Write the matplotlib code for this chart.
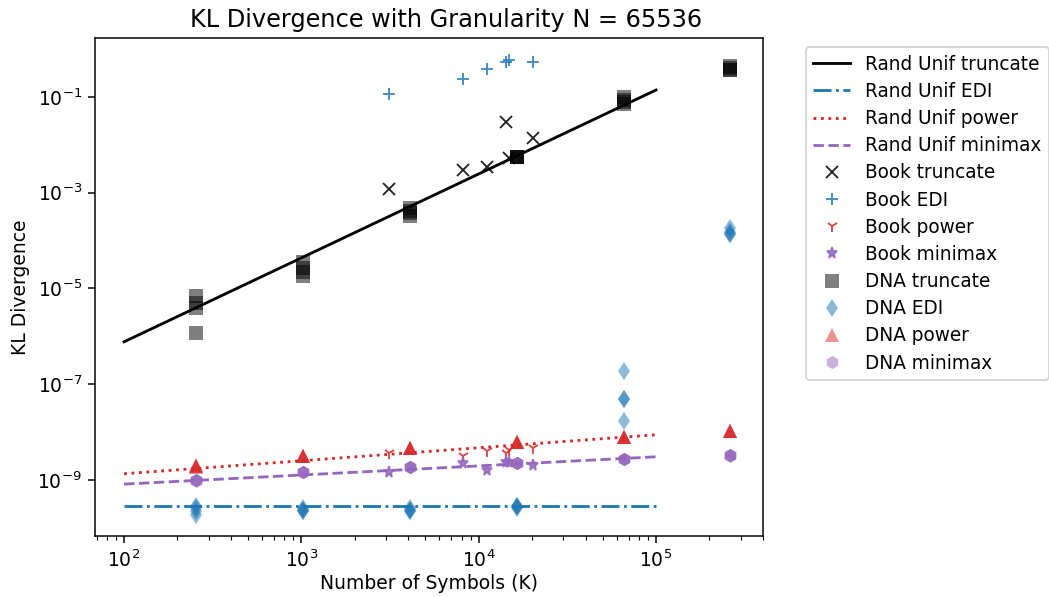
import matplotlib
matplotlib.use("Agg")
import matplotlib.pyplot as plt
import numpy as np

# Random-uniform reference fits
rand_K = [100, 100000]
rand_truncate = [7.7e-7, 0.14]
rand_edi = [2.9e-10, 2.9e-10]
rand_power = [1.35e-9, 8.8e-9]
rand_minimax = [8.2e-10, 3.05e-9]

# Book samples
book_K = [3100, 8100, 11100, 14300, 14900, 20100]
book_truncate = [1.18e-3, 2.99e-3, 3.40e-3, 2.96e-2, 5.25e-3, 1.37e-2]
book_edi = [0.114, 0.238, 0.379, 0.545, 0.592, 0.538]
book_power = [3.64e-9, 3.10e-9, 3.94e-9, 3.64e-9, 4.2e-9, 4.64e-9]
book_minimax = [1.50e-9, 2.25e-9, 1.63e-9, 2.43e-9, 2.32e-9, 2.07e-9]

# DNA samples (several sequences per K)
dna_K = [256, 1024, 4096, 16384, 65536, 262144]
dna_truncate = [
    [7.0e-6, 4.9e-6, 3.9e-6, 1.2e-6],
    [3.6e-5, 2.7e-5, 2.2e-5, 1.8e-5],
    [4.8e-4, 4.2e-4, 3.8e-4, 3.3e-4],
    [5.6e-3, 5.6e-3, 5.5e-3, 5.7e-3],
    [0.10, 0.085, 0.08, 0.071],
    [0.44, 0.40, 0.37, 0.37],
]
dna_edi = [
    [2.8e-10, 2.6e-10, 2.2e-10, 1.9e-10],
    [2.6e-10, 2.4e-10, 2.3e-10, 2.2e-10],
    [2.6e-10, 2.4e-10, 2.3e-10, 2.2e-10],
    [2.9e-10, 2.8e-10, 2.7e-10, 2.6e-10],
    [1.9e-7, 4.9e-8, 4.9e-8, 1.7e-8],
    [1.8e-4, 1.5e-4, 1.4e-4, 1.4e-4],
]
dna_power = [
    [2.1e-9, 2.0e-9, 2.0e-9, 1.9e-9],
    [3.2e-9, 3.2e-9, 3.1e-9, 3.2e-9],
    [4.7e-9, 4.7e-9, 4.6e-9, 4.7e-9],
    [6.3e-9, 6.2e-9, 6.3e-9, 6.2e-9],
    [8.0e-9, 7.9e-9, 8.0e-9, 7.9e-9],
    [1.06e-8, 1.05e-8, 1.06e-8, 1.05e-8],
]
dna_minimax = [
    [1.01e-9, 1.0e-9, 0.95e-9, 1.02e-9],
    [1.48e-9, 1.47e-9, 1.49e-9, 1.48e-9],
    [1.89e-9, 1.88e-9, 1.9e-9, 1.89e-9],
    [2.29e-9, 2.28e-9, 2.3e-9, 2.29e-9],
    [2.77e-9, 2.76e-9, 2.78e-9, 2.77e-9],
    [3.25e-9, 3.2e-9, 3.3e-9, 3.25e-9],
]

DPI = 135
fig = plt.figure(figsize=(1049 / DPI, 597 / DPI), dpi=DPI)
ax = fig.add_axes([95 / 1049, 61 / 597, 668 / 1049, 498 / 597])

blue, red, purple = "tab:blue", "tab:red", "tab:purple"

ax.plot(rand_K, rand_truncate, color="k", ls="-", label="Rand Unif truncate")
ax.plot(rand_K, rand_edi, color=blue, ls="-.", label="Rand Unif EDI")
ax.plot(rand_K, rand_power, color=red, ls=":", label="Rand Unif power")
ax.plot(rand_K, rand_minimax, color=purple, ls="--", label="Rand Unif minimax")

ba = 0.85
ax.plot(book_K, book_truncate, marker="x", ls="none", color="k", alpha=ba, label="Book truncate")
ax.plot(book_K, book_edi, marker="+", ls="none", color=blue, alpha=ba, label="Book EDI")
ax.plot(book_K, book_power, marker="1", ls="none", color=red, alpha=ba, label="Book power")
ax.plot(book_K, book_minimax, marker="*", ls="none", color=purple, alpha=ba, label="Book minimax")


def flat(vals):
    xs, ys = [], []
    for k, row in zip(dna_K, vals):
        for v in row:
            xs.append(k)
            ys.append(v)
    return xs, ys


da = 0.5
for vals, mk, col, lab in [
    (dna_truncate, "s", "k", "DNA truncate"),
    (dna_edi, "d", blue, "DNA EDI"),
    (dna_power, "^", red, "DNA power"),
    (dna_minimax, "h", purple, "DNA minimax"),
]:
    xs, ys = flat(vals)
    ax.plot(xs, ys, marker=mk, ls="none", color=col, alpha=da, markersize=7,
            markeredgewidth=0, label=lab)

ax.set_xscale("log")
ax.set_yscale("log")
ax.set_xlim(10 ** 1.836, 10 ** 5.603)
ax.set_ylim(10 ** -10.17, 10 ** 0.232)

ax.set_title("KL Divergence with Granularity N = 65536", fontsize=12.8, x=0.525)
ax.set_xlabel("Number of Symbols (K)", labelpad=2)
ax.set_ylabel("KL Divergence")

ax.legend(loc="upper left", bbox_to_anchor=(1.05, 1), labelspacing=0.44, fontsize=9.9)

fig.savefig("out.png", dpi=DPI)
